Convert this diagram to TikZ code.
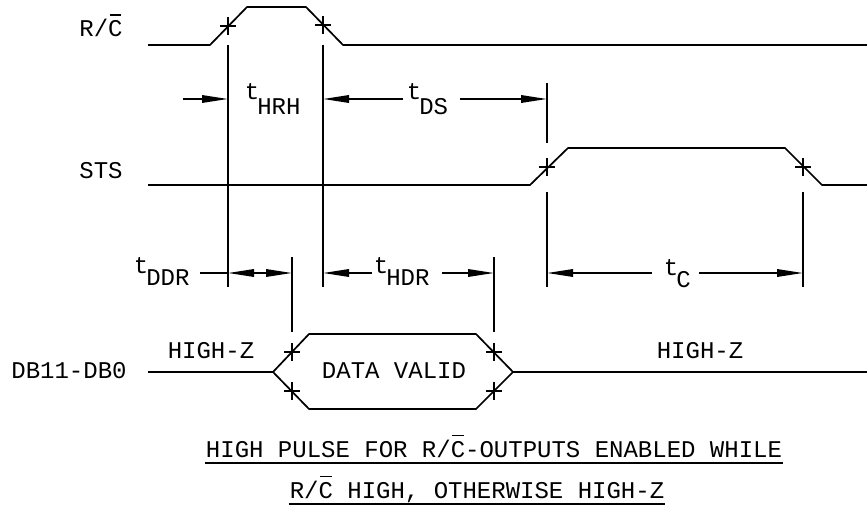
\documentclass[tikz,border=0pt]{standalone}
\usepackage{fontspec}
\newfontfamily\dfont{Liberation Mono}
\usetikzlibrary{arrows.meta}
\newcommand\ovC{\makebox[0pt][l]{\hspace{1.5pt}\rule[21pt]{11.5pt}{1.5pt}}C}
\newcommand\tsub[2][-15pt]{t\kern-2pt\raisebox{#1}{#2}}
\begin{document}
\begin{tikzpicture}[x=1pt,y=-1pt,line width=1.7pt,line join=round,
  lbl/.style={font=\dfont\fontsize{24}{28}\selectfont,inner sep=0pt,anchor=base},
  tl/.style={font=\dfont\fontsize{24}{28}\selectfont,inner sep=0pt,anchor=base west},
  >={Triangle[length=26pt,width=7.5pt]},
  tick/.pic={\draw[line width=1.4pt] (-8,0)--(8,0) (0,-9)--(0,9);}]
\useasboundingbox (0,0) rectangle (867,508);
% signal labels
\node[lbl] (rc) at (101,37) {R/\ovC};
\node[lbl] (sts) at (101,178) {STS};
\node[lbl] (db) at (69,378) {DB11-DB0};
\node[lbl] (hz1) at (211,358) {HIGH-Z};
\node[lbl] (hz2) at (700,358) {HIGH-Z};
\node[lbl] (dv) at (394,378) {DATA VALID};
% signals
\draw (148,45) -- (210,45) -- (247,7) -- (306,7) -- (343,45) -- (867,45);
\draw (148,185) -- (530,185) -- (568,148) -- (785,148) -- (822,185) -- (867,185);
\draw (148,372) -- (273,372);
\draw (273,372) -- (309,334) -- (476,334) -- (513,372) -- (476,409) -- (309,409) -- cycle;
\draw (513,372) -- (867,372);
% ticks
\foreach \p in {(228,26),(323,25),(547,167),(803,167),(292,352),(292,391),(494,352),(494,391)}
  \pic at \p {tick};
% extension lines
\draw (228,45) -- (228,287);
\draw (323,45) -- (323,287);
\draw (547,83) -- (547,143);
\draw (547,192) -- (547,287);
\draw (803,192) -- (803,287);
\draw (292,257) -- (292,332);
\draw (494,257) -- (494,332);
% dimension labels
\node[tl] (thrh) at (244,100) {\tsub{HRH}};
\node[tl] (tds) at (406,100) {\tsub{DS}};
\node[tl] (tddr) at (133,273) {\tsub[-12pt]{DDR}};
\node[tl] (thdr) at (373,273) {\tsub[-12pt]{HDR}};
\node[tl] (tc) at (663,275) {\tsub[-12pt]{C}};
% dimension arrows
\draw[->] (183,99) -- (228,99);
\draw[<-] (323,99) -- (403,99);
\draw[->] (460,99) -- (547,99);
\draw (200,273) -- (228,273);
\draw[<->] (228,273) -- (292,273);
\draw[<-] (323,273) -- (372,273);
\draw[->] (442,273) -- (494,273);
\draw[<-] (547,273) -- (652,273);
\draw[->] (699,273) -- (803,273);
% note
\node[lbl] (n1) at (494,457) {HIGH PULSE FOR R/\ovC-OUTPUTS ENABLED WHILE};
\node[lbl] (n2) at (477,498) {R/\ovC{} HIGH, OTHERWISE HIGH-Z};
\draw (n1.base west) ++(0,6) coordinate (u1a) (n1.base east) ++(0,6) coordinate (u1b);
\draw (u1a) -- (u1b);
\draw (n2.base west) ++(0,6) coordinate (u2a) (n2.base east) ++(0,6) coordinate (u2b);
\draw (u2a) -- (u2b);
\end{tikzpicture}
\end{document}
